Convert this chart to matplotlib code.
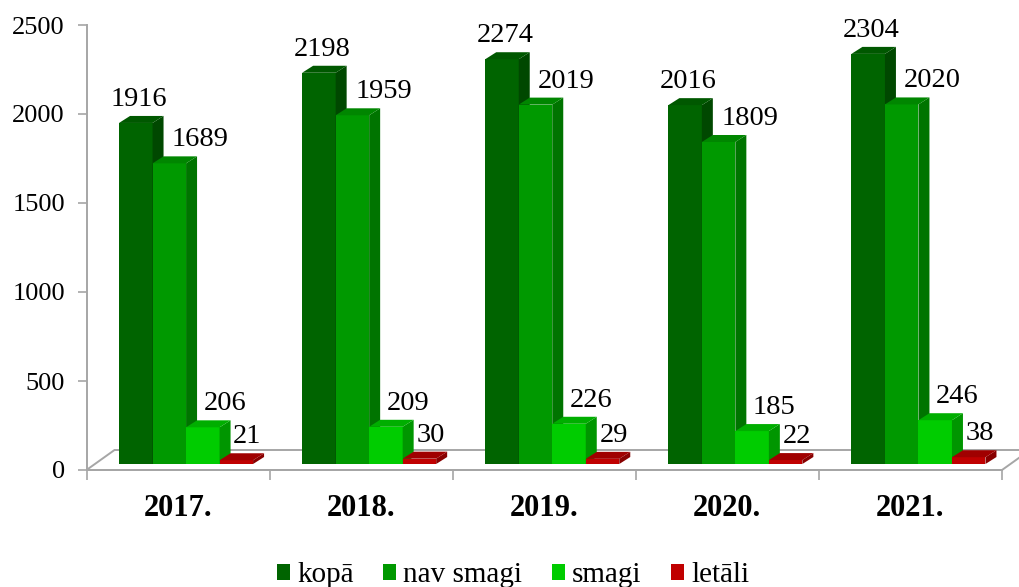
import matplotlib
matplotlib.use("Agg")
import matplotlib.pyplot as plt
import matplotlib.transforms as mtransforms
from matplotlib.patches import Polygon, Patch
from matplotlib.ticker import FixedLocator, NullFormatter

years = ["2017.", "2018.", "2019.", "2020.", "2021."]
series = ["kopā", "nav smagi", "smagi", "letāli"]
kopa = [1916, 2198, 2274, 2016, 2304]
nav_smagi = [1689, 1959, 2019, 1809, 2020]
smagi = [206, 209, 226, 185, 246]
letali = [21, 30, 29, 22, 38]
values = [kopa, nav_smagi, smagi, letali]

FRONT = ["#006400", "#009900", "#00cc00", "#c00000"]
SIDE = ["#004800", "#007400", "#009600", "#880000"]
TOP = ["#005800", "#008600", "#00ae00", "#a00000"]
GREY = "#a6a6a6"

plt.rcParams["font.family"] = ["Liberation Serif", "DejaVu Serif"]

W, H, DPI = 1020, 587, 100
fig = plt.figure(figsize=(W / DPI, H / DPI), dpi=DPI)
ax = fig.add_axes([86.5 / W, (H - 470) / H, 915.5 / W, 445 / H])
ax.set_xlim(0, len(years))
ax.set_ylim(0, 2500)

# spines / ticks
for s in ("top", "right"):
    ax.spines[s].set_visible(False)
for s in ("left", "bottom"):
    ax.spines[s].set_color(GREY)
    ax.spines[s].set_linewidth(1.4)
ax.set_yticks(range(0, 2501, 500))
ax.tick_params(axis="y", colors=GREY, length=6.5, width=1.2, pad=9,
               labelsize=19, labelcolor="black")
ax.xaxis.set_major_locator(FixedLocator(range(len(years) + 1)))
ax.xaxis.set_major_formatter(NullFormatter())
ax.xaxis.set_minor_locator(FixedLocator([i + 0.5 for i in range(len(years))]))
ax.set_xticklabels(years, minor=True, fontsize=22, fontweight="bold")
ax.tick_params(axis="x", which="major", colors=GREY, length=7, width=1.2)
ax.tick_params(axis="x", which="minor", length=0, pad=17)

px = 1.0 / DPI


def poly(pts, **kw):
    p = Polygon(pts, closed=True, transform=mtransforms.IdentityTransform(),
                clip_on=False, **kw)
    ax.add_patch(p)
    return p


# floor (3D base plane)
fl, fr = ax.transData.transform([(0, 0), (len(years), 0)])
fdx, fdy = 28, 20
poly([fl, fr, (fr[0] + fdx, fr[1] + fdy), (fl[0] + fdx, fl[1] + fdy)],
     facecolor="white", edgecolor=GREY, linewidth=1.4, zorder=1)

# bars sit a little behind the front edge of the floor
bar_trans = ax.transData + mtransforms.ScaledTranslation(8 * px, 6 * px,
                                                         fig.dpi_scale_trans)
bw = 0.183
start = 0.5 - 2 * bw
ddx, ddy = 11, 7
lab_dx = [3, 31, 22, 11]
lab_dy = 17

for j, vals in enumerate(values):
    xs = [i + start + j * bw for i in range(len(years))]
    bars = ax.bar(xs, vals, width=bw, align="edge", color=FRONT[j],
                  linewidth=0, transform=bar_trans)
    for i, (r, v) in enumerate(zip(bars, vals)):
        z = 3 + i + j * 0.1
        r.set_zorder(z)
        (x0, y0), (x1, y1) = bar_trans.transform(
            [(r.get_x(), 0), (r.get_x() + r.get_width(), v)])
        poly([(x1, y0), (x1, y1), (x1 + ddx, y1 + ddy), (x1 + ddx, y0 + ddy)],
             facecolor=SIDE[j], linewidth=0, zorder=z + 0.01)
        poly([(x0, y1), (x1, y1), (x1 + ddx, y1 + ddy), (x0 + ddx, y1 + ddy)],
             facecolor=TOP[j], linewidth=0, zorder=z + 0.02)
        ax.annotate(f"{v}", xy=(r.get_x() + bw / 2, v), xycoords=bar_trans,
                    xytext=(lab_dx[j] * 0.72, lab_dy * 0.72),
                    textcoords="offset points", ha="center", va="baseline",
                    fontsize=20.5, color="black", zorder=20,
                    annotation_clip=False)

handles = [Patch(facecolor=FRONT[j], edgecolor="none", label=series[j])
           for j in range(len(series))]
fig.legend(handles=handles, loc="center", bbox_to_anchor=(0.503, 0.02),
           ncol=4, frameon=False, fontsize=21, handlelength=0.45,
           handleheight=0.45, handletextpad=0.25, columnspacing=1.0,
           borderpad=0)

fig.savefig("out.png", dpi=DPI)
